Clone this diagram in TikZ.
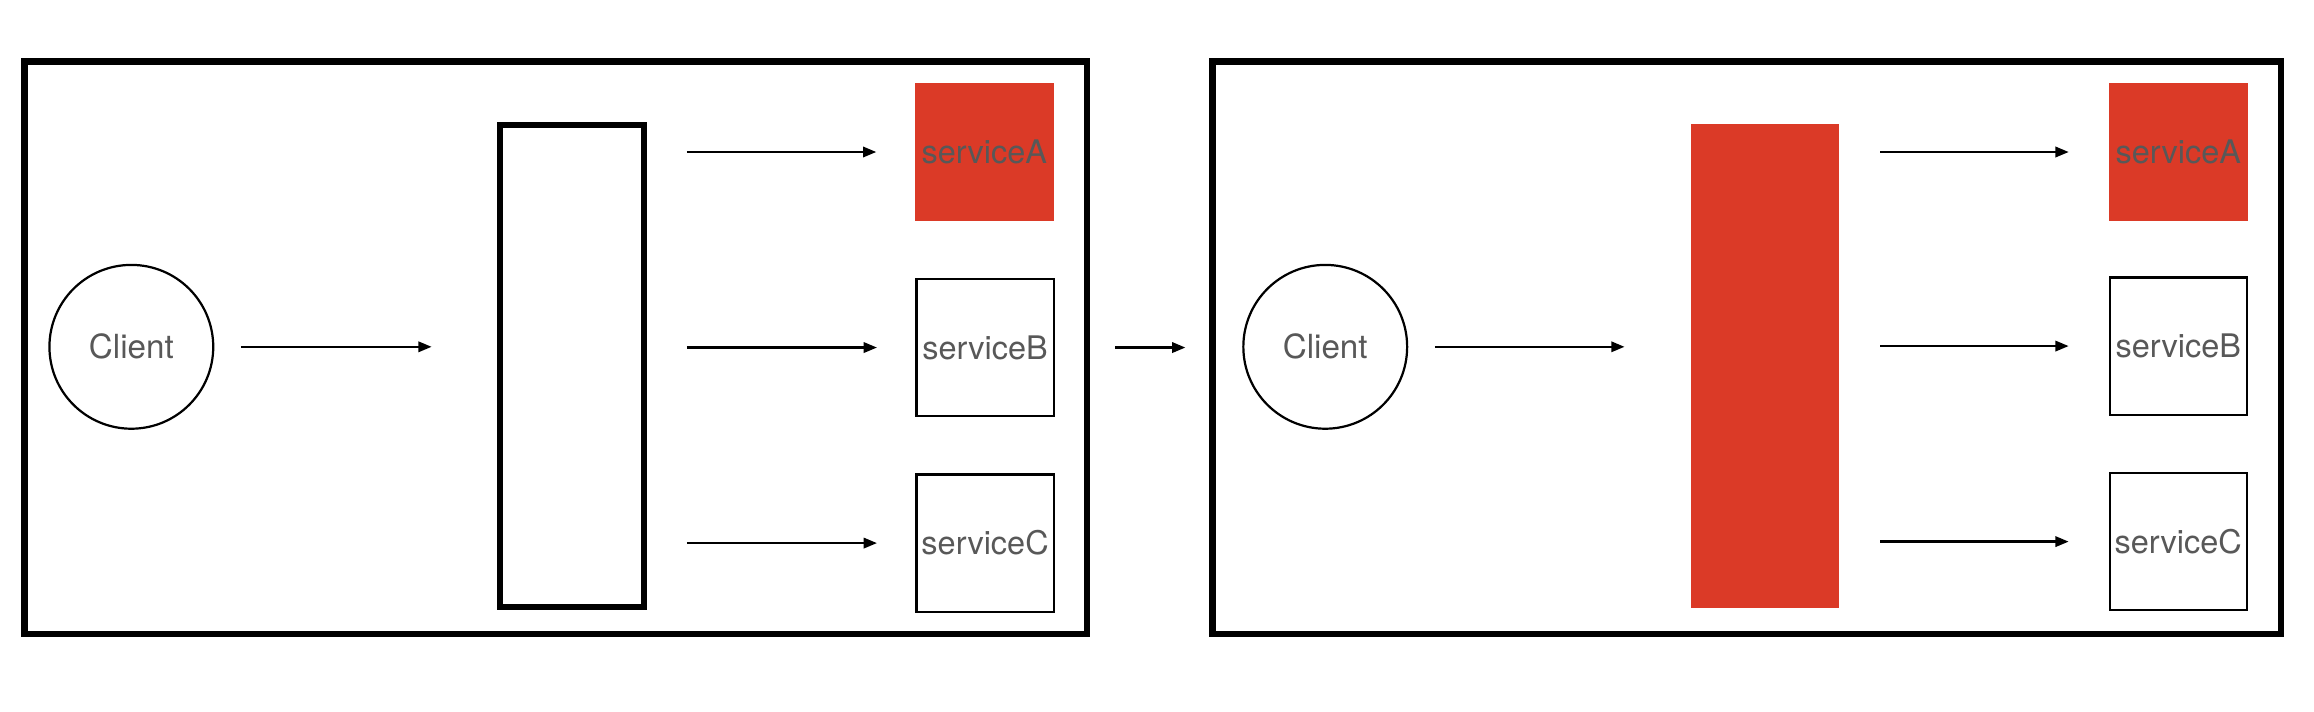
\documentclass[tikz,border=0pt]{standalone}
\usepackage{fontspec}
\setmainfont{TeX Gyre Heros}
\usetikzlibrary{arrows.meta}
\definecolor{svcred}{RGB}{219,58,39}
\definecolor{txtgray}{RGB}{88,88,88}
\tikzset{
  frame/.style={draw, line width=4.5pt, rectangle, inner sep=0pt},
  client/.style={draw, circle, line width=1.5pt, minimum size=111pt, inner sep=0pt, font=\fontsize{22.5}{26}\selectfont, text=txtgray},
  gatewhite/.style={draw, rectangle, line width=4pt, minimum width=98pt, minimum height=326pt, inner sep=0pt},
  gatered/.style={fill=svcred, rectangle, minimum width=100pt, minimum height=328pt, inner sep=0pt},
  svc/.style={rectangle, minimum width=93pt, minimum height=93pt, inner sep=0pt, font=\fontsize{22}{26}\selectfont, text=txtgray},
  svcbox/.style={svc, draw, line width=1.5pt},
  svcred/.style={svc, fill=svcred, minimum width=94pt, minimum height=94pt},
  arr/.style={line width=1.6pt, -{Triangle[length=9pt,width=7pt]}}
}
\begin{document}
\begin{tikzpicture}[x=1pt, y=-1pt]
\useasboundingbox (0,0) rectangle (1568,482);
% left panel
\node[frame, minimum width=720pt, minimum height=388pt] (f1) at (376.5,235.5) {};
\node[client] (c1) at (89,235) {Client};
\node[gatewhite] (m1) at (387.5,248) {};
\node[svcred] (a1) at (667,103) {serviceA};
\node[svcbox] (b1) at (667.5,235.5) {serviceB};
\node[svcbox] (s1) at (667.5,368) {serviceC};
\draw[arr, shorten <=18pt, shorten >=44pt] (c1.east) -- (c1.east -| m1.west);
\draw[arr, shorten <=27pt, shorten >=26pt] (a1.west -| m1.east) -- (a1.west);
\draw[arr, shorten <=27pt, shorten >=26pt] (b1.west -| m1.east) -- (b1.west);
\draw[arr, shorten <=27pt, shorten >=26pt] (s1.west -| m1.east) -- (s1.west);
% right panel
\node[frame, minimum width=724pt, minimum height=388pt] (f2) at (1183.5,235.5) {};
\node[client] (c2) at (898,235) {Client};
\node[gatered] (m2) at (1196,248) {};
\node[svcred] (a2) at (1476,103) {serviceA};
\node[svcbox] (b2) at (1476,234.5) {serviceB};
\node[svcbox] (s2) at (1476,367) {serviceC};
\draw[arr, shorten <=18pt, shorten >=45pt] (c2.east) -- (c2.east -| m2.west);
\draw[arr, shorten <=28pt, shorten >=27pt] (a2.west -| m2.east) -- (a2.west);
\draw[arr, shorten <=28pt, shorten >=27pt] (b2.west -| m2.east) -- (b2.west);
\draw[arr, shorten <=28pt, shorten >=27pt] (s2.west -| m2.east) -- (s2.west);
% between panels
\draw[arr, shorten <=17pt, shorten >=16pt] (f1.east) -- (f2.west);
\end{tikzpicture}
\end{document}
